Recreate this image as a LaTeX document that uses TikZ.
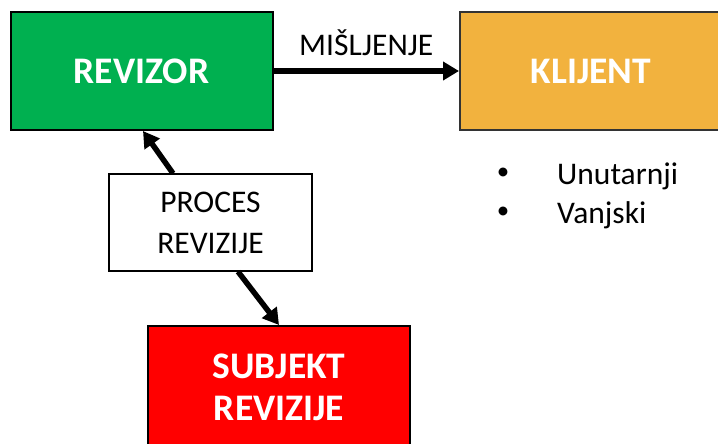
\documentclass[tikz,border=0pt]{standalone}
\usepackage{fontspec}
\setmainfont{Carlito}
\usetikzlibrary{arrows.meta,calc}
\definecolor{revgreen}{HTML}{00B050}
\definecolor{klorange}{HTML}{F2B23E}
\definecolor{subred}{HTML}{FF0000}
\tikzset{
  bigbox/.style={draw=black, line width=2pt, minimum width=262pt, inner sep=0pt,
    text=white, font=\fontsize{37.5}{42}\selectfont\bfseries, align=center},
  procbox/.style={draw=black, line width=1.2pt, fill=white, minimum width=203pt, minimum height=97pt,
    inner sep=0pt, font=\fontsize{31.5}{41}\selectfont, align=center},
  arr/.style={line width=5.5pt, -{Triangle[length=16pt,width=18pt]}},
  plain/.style={font=\fontsize{31.5}{38}\selectfont, inner sep=0pt},
  bul/.style={font=\fontsize{25}{30}\selectfont, inner sep=0pt}
}
\begin{document}
\begin{tikzpicture}[x=1pt,y=-1pt]
\useasboundingbox (0,0) rectangle (718,444);
\clip (0,0) rectangle (718,444);
\node[bigbox, fill=revgreen, minimum height=118pt] (rev) at (141.5,71) {REVIZOR};
\node[bigbox, fill=klorange, minimum height=118pt, draw=black!80] (kl) at (591,71) {KLIJENT};
\node[bigbox, fill=subred, minimum height=122pt] (sub) at (279,387) {SUBJEKT\\REVIZIJE};
\node[procbox] (proc) at (210.5,222.5) {PROCES\\REVIZIJE};
\draw[arr] (rev.east) -- (kl.west) node[midway, above=13pt, plain] (mis) {MIŠLJENJE};
\draw[arr] ([xshift=-37.5pt]proc.north) -- ([xshift=1.5pt]rev.south);
\draw[arr] ([xshift=27.5pt]proc.south) -- (sub.north);
\node[bul, anchor=center] (b1) at (503,174) {\textbullet};
\node[bul, anchor=center] (b2) at (503,213) {\textbullet};
\node[plain, anchor=base west] (t1) at (557,184) {Unutarnji};
\node[plain, anchor=base west] (t2) at (557,223) {Vanjski};
\end{tikzpicture}
\end{document}
